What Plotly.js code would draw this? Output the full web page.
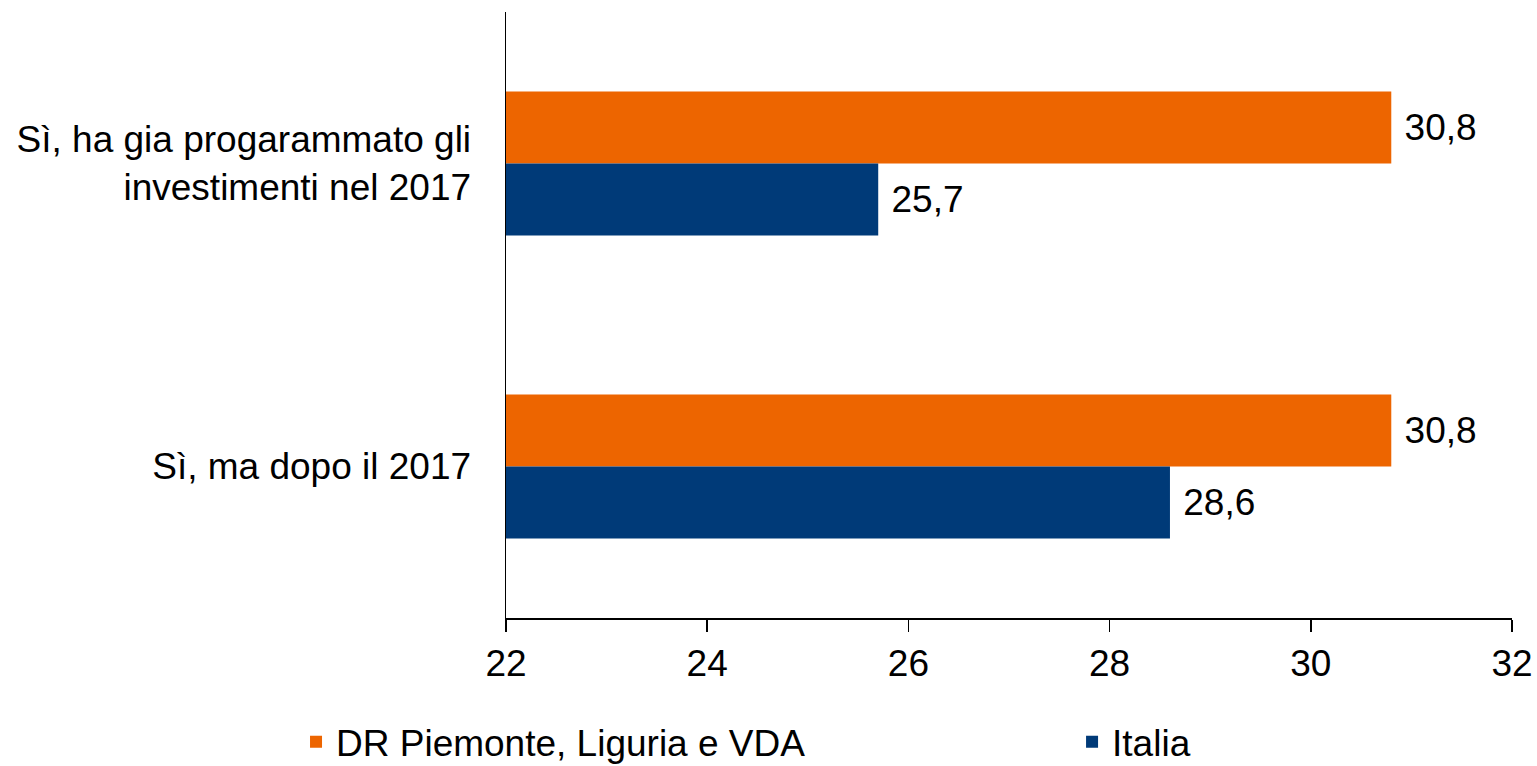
<!DOCTYPE html>
<html>
<head>
<meta charset="utf-8">
<script src="https://cdn.plot.ly/plotly-3.0.1.min.js"></script>
<style>html,body{margin:0;padding:0;background:#fff;}#chart{width:1537px;height:766px;}</style>
</head>
<body>
<div id="chart"></div>
<script>
const categories = ["Sì, ha gia progarammato gli<br>investimenti nel 2017", "Sì, ma dopo il 2017"];
const seriesNames = ["DR Piemonte, Liguria e VDA", "Italia"];
const drValues = [30.8, 30.8];
const italiaValues = [25.7, 28.6];
const xTicks = [22, 24, 26, 28, 30, 32];

const font = {family: "Liberation Sans, Arial, sans-serif", size: 37, color: "#000"};
const fmt = v => "\u00a0" + v.toFixed(1).replace(".", ",");

const traces = [
  {type: "bar", orientation: "h", name: seriesNames[0], y: categories, x: drValues,
   marker: {color: "#ED6500"}, text: drValues.map(fmt),
   textposition: "outside", cliponaxis: false, textfont: font, hoverinfo: "x",
   legend: "legend"},
  {type: "bar", orientation: "h", name: seriesNames[1], y: categories, x: italiaValues,
   marker: {color: "#003A78"}, text: italiaValues.map(fmt),
   textposition: "outside", cliponaxis: false, textfont: font, hoverinfo: "x",
   legend: "legend2"}
];

const legendBase = {orientation: "h", xref: "container", yref: "container",
  xanchor: "left", y: 0.031, yanchor: "middle", font: font, itemwidth: 30,
  bgcolor: "rgba(0,0,0,0)"};

const layout = {
  width: 1537, height: 766,
  margin: {l: 506, r: 25, t: 12, b: 148},
  paper_bgcolor: "#fff", plot_bgcolor: "#fff",
  font: font,
  barmode: "group",
  bargap: 0.525,
  bargroupgap: 0,
  separators: ",.",
  showlegend: true,
  xaxis: {range: [22, 32], tickvals: xTicks, showgrid: false, zeroline: false,
          showline: true, linecolor: "#000", linewidth: 1.5,
          ticks: "outside", ticklen: 12, tickwidth: 1.5, tickcolor: "#000",
          tickfont: font, fixedrange: true},
  yaxis: {autorange: "reversed", showgrid: false, zeroline: false,
          showline: true, linecolor: "#000", linewidth: 1.5, ticks: "",
          ticklabelstandoff: 26, tickfont: font, fixedrange: true},
  legend: Object.assign({}, legendBase, {x: 0.1926}),
  legend2: Object.assign({}, legendBase, {x: 0.6975})
};

Plotly.newPlot("chart", traces, layout, {displayModeBar: false, staticPlot: true});
</script>
</body>
</html>
